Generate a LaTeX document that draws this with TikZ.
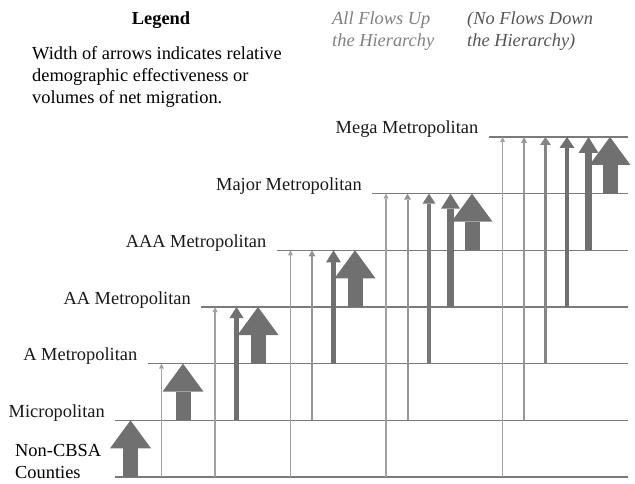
\documentclass[tikz,border=0pt]{standalone}
\usepackage{fontspec}
\setmainfont{Liberation Serif}
\usetikzlibrary{arrows.meta, positioning}

\definecolor{flowgray}{HTML}{707070}
\definecolor{linegray}{HTML}{7A7A7A}
\definecolor{notegray}{HTML}{808080}
\definecolor{darknote}{HTML}{555555}

\begin{document}
\begin{tikzpicture}[
    x=1pt, y=1pt,
    level line/.style = {draw=linegray, line width=1.4pt},
    level label/.style = {
        anchor=base east,
        inner sep=0pt,
        font=\fontsize{18.4}{22}\selectfont,
        text=black!90
    },
    legend text/.style = {
        inner sep=0pt,
        align=left,
        font=\fontsize{18.4}{22}\selectfont
    },
    flow/.style n args={4}{
        draw=flowgray!#4!white,
        line width=#1pt,
        -{Triangle[width=#2pt, length=#3pt, line width=0pt]}
    }
]
\useasboundingbox (0,0) rectangle (635,483);

% legend
\node [legend text, anchor=base, font=\fontsize{18.4}{22}\selectfont\bfseries] (legend) at (161,458) {Legend};
\node [legend text, anchor=north west] (legendbody) at (32,437)
    {Width of arrows indicates relative\\demographic effectiveness or\\volumes of net migration.};
\node [legend text, anchor=north west, text=notegray, font=\fontsize{18.4}{22}\selectfont\itshape] (upnote) at (332,471)
    {All Flows Up\\the Hierarchy};
\node [legend text, anchor=north west, text=darknote, font=\fontsize{18.4}{22}\selectfont\itshape] (downnote) at (467,471)
    {(No Flows Down\\the Hierarchy)};

% levels of the hierarchy
\foreach \i/\sx/\ly in {0/115/6, 1/115/62.67, 2/147.5/119.33, 3/201/176,
                        4/276.5/232.67, 5/372/289.33, 6/488.5/346} {
    \coordinate (L\i) at (\sx,\ly);
    \coordinate (E\i) at (628,\ly);
    \draw [level line] (L\i) -- (E\i);
}

\node [level label] (lab1) at ([xshift=-10pt, yshift=3pt]L1) {Micropolitan};
\node [level label] (lab2) at ([xshift=-10pt, yshift=3pt]L2) {A Metropolitan};
\node [level label] (lab3) at ([xshift=-10pt, yshift=3pt]L3) {AA Metropolitan};
\node [level label] (lab4) at ([xshift=-10pt, yshift=3pt]L4) {AAA Metropolitan};
\node [level label] (lab5) at ([xshift=-10pt, yshift=3pt]L5) {Major Metropolitan};
\node [level label] (lab6) at ([xshift=-10pt, yshift=3pt]L6) {Mega Metropolitan};
\node [legend text, anchor=north west] (lab0) at (15,38.5) {Non-CBSA\\Counties};

% columns of the fattest flow into each level
\foreach \j/\fx in {1/130.5, 2/183, 3/258, 4/355, 5/472, 6/610}
    \coordinate (F\j) at (\fx,0);

% flows: target/source/width/head width/head length
\foreach \j/\i/\w/\hw/\hl in {
    1/0/15/41/28,
    2/0/1.2/5/5, 2/1/15/41/28,
    3/0/1.2/5/5, 3/1/4.7/14/11, 3/2/15/41/28,
    4/0/1.2/5/5, 4/1/2/7/6, 4/2/4.5/15/12, 4/3/15/41/28,
    5/0/1.2/5/5, 5/1/2/7/6, 5/2/4/13/10, 5/3/6.5/19/15, 5/4/15/41/28,
    6/0/1.2/5/5, 6/1/1.8/6/6, 6/2/3/11/8, 6/3/4.7/15/11, 6/4/6.7/20/16, 6/5/15/41/28} {
    \pgfmathtruncatemacro\shade{min(100,55+10*\w)}
    \draw [flow={\w}{\hw}{\hl}{\shade}]
        ([xshift={-21.5*(\j-1-\i)}]F\j |- L\i) -- ([xshift={-21.5*(\j-1-\i)}]F\j |- L\j);
}

\end{tikzpicture}
\end{document}
